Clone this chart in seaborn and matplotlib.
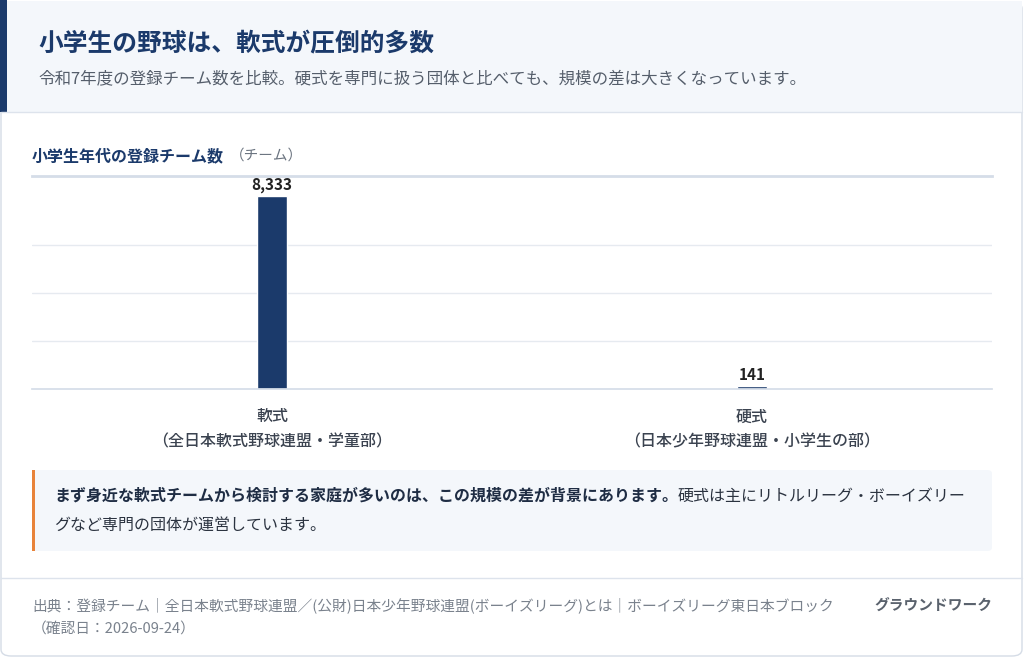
import matplotlib
matplotlib.use("Agg")
import matplotlib.pyplot as plt
import seaborn as sns
import pandas as pd
from matplotlib.patches import FancyBboxPatch, Rectangle

sns.set_theme(style="white")
plt.rcParams['font.family'] = ['Noto Sans CJK JP', 'DejaVu Sans']

# data
categories = ["軟式\n（全日本軟式野球連盟・学童部）", "硬式\n（日本少年野球連盟・小学生の部）"]
teams = [8333, 141]
value_labels = ["8,333", "141"]

NAVY = "#1b3a6b"
W, H = 1024, 658
fig = plt.figure(figsize=(W / 100, H / 100), dpi=100)

def fx(x): return x / W
def fy(y): return 1 - y / H

# card background / header
fig.patches.append(FancyBboxPatch((fx(1), fy(656)), fx(1021), 654 / H, boxstyle="round,pad=0,rounding_size=0.01",
                                  transform=fig.transFigure, fc="white", ec="#d5dce6", lw=1))
fig.patches.append(Rectangle((fx(1), fy(112)), fx(1021), 111 / H, transform=fig.transFigure, fc="#f4f7fb", ec="none"))
fig.patches.append(Rectangle((0, fy(112)), fx(7), 112 / H, transform=fig.transFigure, fc=NAVY, ec="none"))
fig.lines.append(plt.Line2D([fx(1), fx(1022)], [fy(112)] * 2, transform=fig.transFigure, color="#dde3ec", lw=1))

fig.text(fx(38), fy(44), "小学生の野球は、軟式が圧倒的多数", fontsize=17.8, fontweight="bold", color=NAVY, va="center")
fig.text(fx(38), fy(80), "令和7年度の登録チーム数を比較。硬式を専門に扱う団体と比べても、規模の差は大きくなっています。",
         fontsize=11.9, color="#555e6b", va="center")

t = fig.text(fx(32), fy(156), "小学生年代の登録チーム数", fontsize=11.5, fontweight="bold", color=NAVY, va="center")
fig.canvas.draw()
bb = t.get_window_extent()
fig.text(bb.x1 / W + fx(6), fy(156), "（チーム）", fontsize=10.5, color="#6b7480", va="center")

# chart
ax = fig.add_axes([fx(32), fy(389), fx(960), 213 / H], zorder=3)
ax.patch.set_alpha(0)
df = pd.DataFrame({"cat": categories, "teams": teams})
sns.barplot(data=df, x="cat", y="teams", color=NAVY, width=0.0625, saturation=1, ax=ax)
ax.set_xlim(-0.5, 1.5)
ax.set_ylim(0, 9200)
ax.set_yticks([2070, 4140, 6210])
ax.grid(axis="y", color="#e6eaf0", lw=1)
ax.set_axisbelow(True)
ax.set_yticklabels([])
ax.tick_params(left=False, bottom=False)
for s in ["left", "right"]:
    ax.spines[s].set_visible(False)
ax.spines["top"].set_color("#d5dde8")
ax.spines["top"].set_linewidth(2)
ax.spines["bottom"].set_color("#d5dde8")
ax.set_xlabel("")
ax.set_ylabel("")
ax.set_xticks([0, 1])
ax.set_xticklabels(categories, fontsize=11.5, color="#3b4350", linespacing=1.6, fontweight="medium")
ax.tick_params(axis="x", pad=8)
for i, (v, lab) in enumerate(zip(teams, value_labels)):
    ax.annotate(lab, (i, v), xytext=(0, 2), textcoords="offset points", ha="center", va="bottom",
                fontsize=11, fontweight="bold", color="#222")

# callout
fig.patches.append(FancyBboxPatch((fx(32), fy(551)), fx(960), 81 / H, boxstyle="round,pad=0,rounding_size=0.005",
                                  transform=fig.transFigure, fc="#f4f7fb", ec="none"))
fig.patches.append(Rectangle((fx(32), fy(551)), fx(3), 81 / H, transform=fig.transFigure, fc="#e8833a", ec="none"))
b = fig.text(fx(54), fy(496), "まず身近な軟式チームから検討する家庭が多いのは、この規模の差が背景にあります。",
             fontsize=11.5, fontweight="bold", color="#1f2d44", va="center")
fig.canvas.draw()
bb = b.get_window_extent()
fig.text(bb.x1 / W, fy(496), "硬式は主にリトルリーグ・ボーイズリー", fontsize=11.5, color="#2b3340", va="center")
fig.text(fx(54), fy(525), "グなど専門の団体が運営しています。", fontsize=11.5, color="#2b3340", va="center")

# footer
fig.lines.append(plt.Line2D([fx(1), fx(1022)], [fy(578)] * 2, transform=fig.transFigure, color="#dde3ec", lw=1))
fig.text(fx(32), fy(605), "出典：登録チーム｜全日本軟式野球連盟／(公財)日本少年野球連盟(ボーイズリーグ)とは｜ボーイズリーグ東日本ブロック",
         fontsize=10.6, color="#7a828d", va="center")
fig.text(fx(32), fy(630), "（確認日：2026-09-24）", fontsize=10.6, color="#7a828d", va="center")
fig.text(fx(992), fy(605), "グラウンドワーク", fontsize=10.6, fontweight="bold", color="#5a626d", va="center", ha="right")

fig.savefig("out.png", dpi=100)
